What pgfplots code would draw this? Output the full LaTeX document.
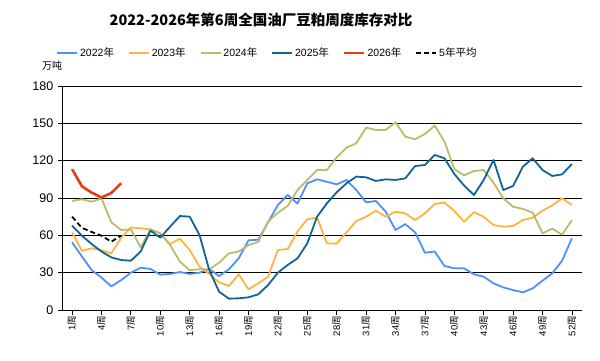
\documentclass[border=0pt]{standalone}
\usepackage{fontspec}
\setmainfont{Liberation Sans}
\newfontfamily\cjk{Noto Sans CJK SC}
\usepackage{pgfplots}
\pgfplotsset{compat=1.18}
\definecolor{c22}{RGB}{77,144,254}
\definecolor{c23}{RGB}{255,179,64}
\definecolor{c24}{RGB}{189,187,107}
\definecolor{c25}{RGB}{16,100,150}
\definecolor{c26}{RGB}{224,64,16}
\begin{document}
\begin{tikzpicture}[x=1pt,y=1pt]
\useasboundingbox (0,0) rectangle (600,360);
\node[font=\cjk\bfseries\fontsize{14.5}{16}\selectfont] at (261,340) {2022-2026年第6周全国油厂豆粕周度库存对比};
\node[font=\cjk\fontsize{10}{12}\selectfont, anchor=west, inner sep=0pt] at (42,294) {万吨};
\begin{axis}[at={(62.3pt,50pt)}, anchor=south west, scale only axis,
  width=519.4pt, height=224pt,
  xmin=0, xmax=53, ymin=0, ymax=180,
  ytick={0,30,...,180}, xtick={1,4,...,52},
  axis x line*=bottom, axis y line*=left,
  axis line style={black, line width=0.8pt},
  tick align=outside, major tick length=4.5pt,
  tick style={black, line width=0.8pt},
  ymajorgrids, grid style={black, line width=0.8pt},
  /pgf/number format/assume math mode=true,
  yticklabel style={font=\fontsize{12.5}{14}\selectfont, xshift=-1pt},
  xticklabel={\pgfmathtruncatemacro\w{\tick}\w{\cjk 周}},
  xticklabel style={rotate=90, anchor=east, font=\fontsize{9.5}{11}\selectfont, inner sep=1.5pt},
  legend style={at={(0.395,1)}, anchor=center, yshift=33pt, draw=none, fill=none,
    legend columns=6, font=\fontsize{10.5}{12}\selectfont,
    /tikz/every even column/.append style={column sep=12pt}},
  legend image code/.code={\draw[#1] (0pt,0pt) -- (20pt,0pt);},
  every axis plot/.append style={no marks, line join=round},
]
\addplot[c22, line width=1.8pt] coordinates {
(1,54.4)(2,43)(3,32)(4,26)(5,19)(6,24)(7,30)(8,34)(9,33)(10,28.4)(11,29)(12,30.5)(13,29)(14,30)(15,33)(16,27.3)(17,32.7)(18,41.5)(19,56)(20,56.5)(21,70.5)(22,84.4)(23,92.4)(24,85.5)(25,101.8)(26,105)(27,103)(28,101)(29,104.5)(30,96.4)(31,86.5)(32,87.6)(33,79)(34,64.3)(35,69)(36,62.4)(37,46)(38,47)(39,35.4)(40,33.5)(41,33.5)(42,28.7)(43,26.8)(44,21.4)(45,18.2)(46,16)(47,14.2)(48,17.4)(49,23.6)(50,29.5)(51,39.6)(52,57.6)};
\addlegendentry{2022{\cjk 年}}
\addplot[c23, line width=1.8pt] coordinates {
(1,62.2)(2,47.6)(3,49.6)(4,48)(5,45.5)(6,58)(7,66.3)(8,65.7)(9,64.8)(10,61.6)(11,53)(12,57.3)(13,48.2)(14,34.8)(15,29)(16,22.2)(17,19.3)(18,28.7)(19,16.6)(20,21.4)(21,26.8)(22,48.2)(23,49)(24,63)(25,73)(26,74.2)(27,53.6)(28,53.3)(29,62.4)(30,71.5)(31,75)(32,79.8)(33,75)(34,79)(35,77.7)(36,72.3)(37,77.7)(38,85.2)(39,86.3)(40,79.6)(41,71)(42,78.5)(43,75)(44,68.3)(45,67)(46,67.5)(47,72.3)(48,74.2)(49,79.8)(50,84.1)(51,89.7)(52,84.4)};
\addlegendentry{2023{\cjk 年}}
\addplot[c24, line width=1.8pt] coordinates {
(1,87.6)(2,89)(3,87)(4,89.7)(5,70.5)(6,64.3)(7,64.8)(8,50.4)(9,64.8)(10,61.6)(11,52.2)(12,38.8)(13,32)(14,32.7)(15,32.7)(16,38)(17,45.5)(18,47)(19,52.2)(20,54.7)(21,71)(22,78.2)(23,83.6)(24,96.4)(25,104.5)(26,112.5)(27,112.5)(28,122.7)(29,130.5)(30,134)(31,146.5)(32,144.7)(33,144.7)(34,150.8)(35,139.3)(36,137.2)(37,141.4)(38,148.2)(39,135.3)(40,113.3)(41,108.2)(42,111.7)(43,112.5)(44,102.3)(45,89.7)(46,83)(47,81.2)(48,78.2)(49,61.6)(50,65.4)(51,60.5)(52,72.3)};
\addlegendentry{2024{\cjk 年}}
\addplot[c25, line width=1.8pt] coordinates {
(1,67.8)(2,59.7)(3,53)(4,47)(5,42.3)(6,40.2)(7,39.6)(8,47)(9,63.8)(10,58.1)(11,67)(12,75.5)(13,75)(14,60.3)(15,32)(16,14.7)(17,9.1)(18,9.4)(19,10.2)(20,12.6)(21,20.1)(22,30)(23,36.2)(24,41.5)(25,53.6)(26,75)(27,85.7)(28,94.6)(29,101.8)(30,107.2)(31,106.6)(32,103.7)(33,105)(34,104.5)(35,105.8)(36,115.7)(37,116.5)(38,124.6)(39,121.9)(40,109.3)(41,100)(42,92.4)(43,104.5)(44,120.6)(45,96.4)(46,99.7)(47,115.2)(48,121.9)(49,112.5)(50,107.7)(51,109)(52,117.3)};
\addlegendentry{2025{\cjk 年}}
\addplot[c26, line width=2.6pt] coordinates {
(1,113.2)(2,99.4)(3,94.3)(4,90.4)(5,94)(6,101.8)};
\addlegendentry{2026{\cjk 年}}
\addplot[black, line width=1.8pt, dash pattern=on 5pt off 3pt] coordinates {
(1,75)(2,66)(3,62.7)(4,59.7)(5,54.9)(6,59.8)};
\addlegendentry{5{\cjk 年平均}}
\end{axis}
\end{tikzpicture}
\end{document}
